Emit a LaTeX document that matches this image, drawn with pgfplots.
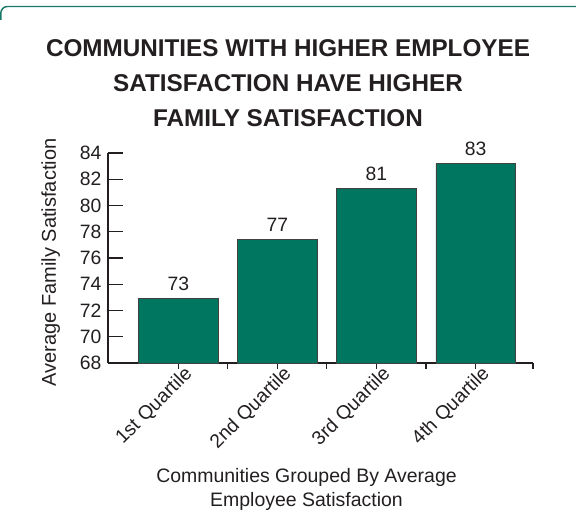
\documentclass[border=0pt]{standalone}
\usepackage{pgfplots}
\pgfplotsset{compat=1.18}
\usepackage{fontspec}
\setmainfont{Liberation Sans}
\setsansfont{Liberation Sans}
\definecolor{barteal}{HTML}{00755F}
\definecolor{txt}{HTML}{231F20}
\definecolor{frame}{HTML}{1A7A6A}
\begin{document}
\begin{tikzpicture}
\begin{axis}[
  at={(0,0)}, anchor=south west,
  scale only axis, width=318.75pt, height=157.5pt,
  clip=false,
  xmin=0.29, xmax=4.58, ymin=68, ymax=84,
  axis lines=left, axis line style={-, draw=txt, line width=0.8pt},
  /pgf/number format/assume math mode=true,
  ytick={68,70,...,84},
  tick align=inside,
  major tick length=11.25pt,
  tick style={draw=txt, line width=0.8pt},
  yticklabel style={font=\fontsize{14.5}{17}\selectfont, text=txt, xshift=-1.5pt},
  xtick={1.5,2.5,3.5,4.58}, xticklabels={},
  x tick style={/pgfplots/major tick length=4.5pt},
  extra x ticks={1,2,3,4},
  extra x tick labels={1st Quartile,2nd Quartile,3rd Quartile,4th Quartile},
  extra x tick style={/pgfplots/major tick length=0pt, tick label style={rotate=45, anchor=north east, xshift=5pt, font=\fontsize{14.5}{17}\selectfont, text=txt}},
  ylabel={Average Family Satisfaction},
  every axis y label/.style={at={(axis description cs:-0.135,0.479)}, rotate=90, anchor=center, font=\fontsize{15}{18}\selectfont, text=txt},
  xlabel={Communities Grouped By Average\\Employee Satisfaction},
  every axis x label/.style={at={(axis description cs:0.467,-0.6)}, anchor=center, align=center, font=\fontsize{14.6}{18}\selectfont, text=txt},
  ybar, bar width=0.8,
  point meta=explicit symbolic,
  nodes near coords,
  nodes near coords style={font=\fontsize{14.5}{17}\selectfont, text=txt, anchor=south, yshift=2.5pt},
]
\addplot[fill=barteal, draw=txt!85, line width=0.6pt] coordinates {(1,72.9) [73] (2,77.4) [77] (3,81.3) [81] (4,83.2) [83]};
\coordinate (bl) at (axis description cs:-0.25412,-0.77143);
\end{axis}
\begin{scope}[shift={(bl)}, x=0.75pt, y=0.75pt]
\draw[frame, line width=1.1pt, rounded corners=5pt] (0.8,505) -- (0.8,518.5) -- (577,518.5);
\node[align=center, text=txt, font=\bfseries\fontsize{18.2}{26.5}\selectfont] at (288,442) {COMMUNITIES WITH HIGHER EMPLOYEE\\SATISFACTION HAVE HIGHER\\FAMILY SATISFACTION};
\end{scope}
\pgfresetboundingbox
\path[use as bounding box, shift={(bl)}, x=0.75pt, y=0.75pt] (0,0) rectangle (576,525);
\end{tikzpicture}
\end{document}
